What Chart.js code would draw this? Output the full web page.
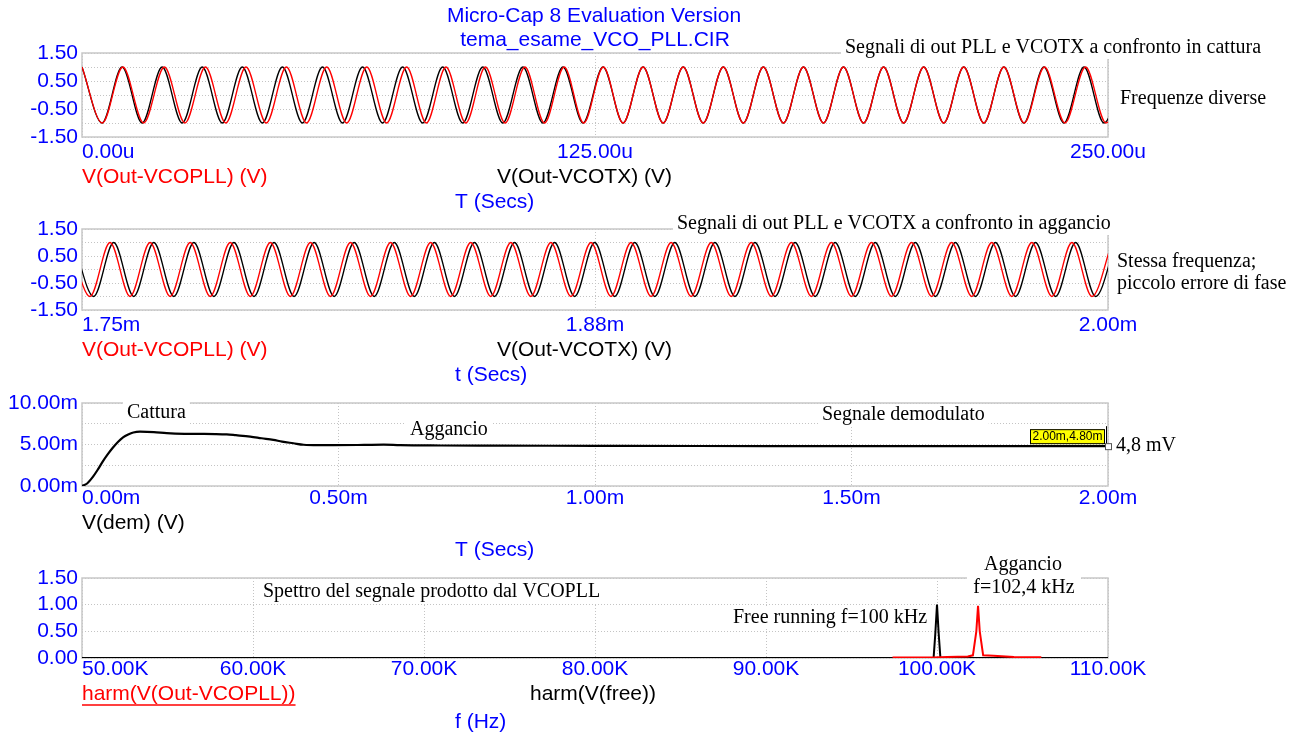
<!DOCTYPE html>
<html>
<head>
<meta charset="utf-8">
<title>tema_esame_VCO_PLL</title>
<script src="https://cdn.jsdelivr.net/npm/chart.js@4.4.1/dist/chart.umd.min.js"></script>
<style>
  html, body { margin: 0; padding: 0; background: #fff; }
  #wrap { position: relative; width: 1301px; height: 736px; overflow: hidden; }
  #wrap canvas { position: absolute; left: 0; top: 0; }
</style>
</head>
<body>
<div id="wrap">
  <canvas id="p1" width="1301" height="736"></canvas>
  <canvas id="p2" width="1301" height="736"></canvas>
  <canvas id="p3" width="1301" height="736"></canvas>
  <canvas id="p4" width="1301" height="736"></canvas>
</div>
<script>
// --- data ---
// panels 1 and 2: times (us) of successive extrema of each sine, first one is a maximum (+1)
const captureTxT = [0, 4.88, 9.77, 14.65, 19.53, 24.41, 29.30, 34.18, 39.06, 43.95, 48.83, 53.71, 58.60,
  63.48, 68.36, 73.24, 78.13, 83.01, 87.89, 92.78, 97.66, 102.54, 107.43, 112.31, 117.19, 122.08, 126.96,
  131.84, 136.72, 141.61, 146.49, 151.37, 156.26, 161.14, 166.02, 170.91, 175.79, 180.67, 185.55, 190.44,
  195.32, 200.20, 205.09, 209.97, 214.85, 219.74, 224.62, 229.50, 234.38, 239.27, 244.15, 249.03, 253.92];
const capturePllT = [0, 4.95, 9.96, 15.02, 20.07, 25.09, 30.08, 35.03, 39.96, 44.90, 49.80, 54.71, 59.62,
  64.50, 69.38, 74.24, 79.10, 83.91, 88.69, 93.51, 98.29, 103.10, 107.92, 112.70, 117.48, 122.25, 127.03,
  131.84, 136.72, 141.61, 146.49, 151.37, 156.26, 161.14, 166.02, 170.91, 175.79, 180.67, 185.55, 190.44,
  195.32, 200.20, 205.09, 209.97, 214.85, 219.74, 224.62, 229.57, 234.53, 239.51, 244.52, 249.52, 254.53];
const lockPllT = [1747.06, 1751.94, 1756.83, 1761.71, 1766.59, 1771.48, 1776.36, 1781.24, 1786.12, 1791.01,
  1795.89, 1800.77, 1805.66, 1810.54, 1815.42, 1820.30, 1825.19, 1830.07, 1834.95, 1839.84, 1844.72, 1849.60,
  1854.49, 1859.37, 1864.25, 1869.14, 1874.02, 1878.90, 1883.78, 1888.67, 1893.55, 1898.43, 1903.32, 1908.20,
  1913.08, 1917.97, 1922.85, 1927.73, 1932.61, 1937.50, 1942.38, 1947.26, 1952.15, 1957.03, 1961.91, 1966.80,
  1971.68, 1976.56, 1981.44, 1986.33, 1991.21, 1996.09, 2000.98];
const lockTxT = [1747.96, 1752.84, 1757.73, 1762.61, 1767.49, 1772.38, 1777.26, 1782.14, 1787.02, 1791.91,
  1796.79, 1801.67, 1806.56, 1811.44, 1816.32, 1821.20, 1826.09, 1830.97, 1835.85, 1840.74, 1845.62, 1850.50,
  1855.39, 1860.27, 1865.15, 1870.04, 1874.92, 1879.80, 1884.68, 1889.57, 1894.45, 1899.33, 1904.22, 1909.10,
  1913.98, 1918.87, 1923.75, 1928.63, 1933.51, 1938.40, 1943.28, 1948.16, 1953.05, 1957.93, 1962.81, 1967.70,
  1972.58, 1977.46, 1982.34, 1987.23, 1992.11, 1996.99, 2001.88];

// panel 3: demodulated signal, t in ms, V in mV
const demT = [0, 0.01, 0.02, 0.03, 0.04, 0.05, 0.06, 0.07, 0.08, 0.09, 0.10, 0.113, 0.14, 0.165, 0.20, 0.23,
  0.26, 0.282, 0.30, 0.328, 0.35, 0.373, 0.39, 0.412, 0.432, 0.46, 0.49, 0.55, 0.588, 0.62, 0.70, 0.80, 1.00,
  1.20, 1.40, 1.60, 1.80, 2.00];
const demV = [0, 0.3, 1.0, 1.9, 2.9, 3.8, 4.6, 5.3, 5.85, 6.2, 6.45, 6.55, 6.5, 6.36, 6.28, 6.27,
  6.26, 6.22, 6.12, 5.95, 5.75, 5.55, 5.35, 5.15, 4.97, 4.92, 4.92, 4.95, 4.98, 4.92, 4.88, 4.86, 4.84,
  4.82, 4.81, 4.80, 4.80, 4.80];

// panel 4: spectra, f in kHz
const freeF = [50, 99.8, 99.9, 100.0, 100.1, 100.2, 110];
const freeA = [0, 0, 0.45, 1.0, 0.45, 0, 0];
const pllF = [97.4, 99.8, 100.6, 101.8, 102.1, 102.3, 102.4, 102.5, 102.7, 103.3, 104.5, 106.1];
const pllA = [0.01, 0.01, 0.02, 0.03, 0.05, 0.5, 0.98, 0.5, 0.05, 0.04, 0.02, 0.015];

// --- drawing ---
const SANS = '"Liberation Sans", Arial, sans-serif';
const SERIF = '"Liberation Serif", "Times New Roman", serif';
const BLUE = '#0000ff';
const RED = '#ff0000';
const GRID = '#c4c4c4';

// extrema alternate max / min
const swing = times => times.map((t, i) => ({ x: t, y: i % 2 ? -1 : 1 }));
const pairs = (xs, ys) => xs.map((x, i) => ({ x: x, y: ys[i] }));

function note(ctx, text, x, y, o = {}) {
  ctx.save();
  ctx.font = (o.size || 20) + 'px ' + (o.family || SERIF);
  ctx.textAlign = o.align || 'left';
  ctx.textBaseline = 'middle';
  const w = ctx.measureText(text).width;
  const left = o.align === 'center' ? x - w / 2 : x;
  if (o.box) {
    ctx.fillStyle = '#fff';
    ctx.fillRect(left - 4, y - 11, w + 8, 22);
  }
  ctx.fillStyle = o.color || '#000';
  ctx.fillText(text, x, y);
  if (o.underline) {
    ctx.strokeStyle = ctx.fillStyle;
    ctx.lineWidth = 1.5;
    ctx.beginPath();
    ctx.moveTo(left, y + 11);
    ctx.lineTo(left + w, y + 11);
    ctx.stroke();
  }
  ctx.restore();
}

const sans = (color, align) => ({ family: SANS, size: 21, color: color, align: align });

function panel(id, cfg) {
  const deco = {
    id: 'deco',
    beforeDatasetsDraw(chart) {
      const a = chart.chartArea, ctx = chart.ctx;
      ctx.save();
      ctx.strokeStyle = '#c8c8c8';
      ctx.lineWidth = 1.5;
      ctx.strokeRect(a.left, a.top, a.right - a.left, a.bottom - a.top);
      ctx.restore();
    },
    afterDraw(chart) {
      const ctx = chart.ctx, xs = chart.scales.x;
      xs.ticks.forEach((t, i) => {
        note(ctx, cfg.xFmt(t.value), xs.getPixelForValue(t.value), cfg.xLabelY,
          sans(BLUE, i === 0 ? 'left' : 'center'));
      });
      cfg.extra(chart, ctx);
    }
  };
  return new Chart(document.getElementById(id), {
    type: 'line',
    data: { datasets: cfg.datasets },
    options: {
      responsive: false,
      animation: false,
      events: [],
      layout: { padding: { left: 0, right: 1301 - 1108, top: cfg.top, bottom: 736 - cfg.bottom } },
      plugins: { legend: { display: false }, tooltip: { enabled: false } },
      elements: { point: { radius: 0 } },
      scales: {
        x: {
          type: 'linear', min: cfg.xMin, max: cfg.xMax,
          ticks: { display: false, stepSize: cfg.xStep },
          grid: { color: GRID, drawTicks: false },
          border: { display: false, dash: [1, 2] },
          afterFit: s => { s.height = 0; }
        },
        y: {
          type: 'linear', min: cfg.yMin, max: cfg.yMax,
          ticks: {
            stepSize: cfg.yStep, color: BLUE, padding: 4, autoSkip: false,
            font: { family: SANS, size: 21 },
            callback: cfg.yFmt
          },
          grid: { color: GRID, drawTicks: false },
          border: { display: false, dash: [1, 2] },
          afterFit: s => { s.width = 82; }
        }
      }
    },
    plugins: [deco]
  });
}

const wave = (data, color) => ({
  data: data, borderColor: color, borderWidth: 1.3,
  cubicInterpolationMode: 'monotone', fill: false
});
const oddHalf = v => (Math.abs(Math.round(v * 2)) % 2 === 1 ? v.toFixed(2) : '');

// 1 - capture
panel('p1', {
  top: 53, bottom: 137, xMin: 0, xMax: 250, xStep: 125, yMin: -1.5, yMax: 1.5, yStep: 0.5,
  xLabelY: 152, xFmt: v => v.toFixed(2) + 'u', yFmt: oddHalf,
  datasets: [wave(swing(capturePllT), RED), wave(swing(captureTxT), '#000')],
  extra(chart, ctx) {
    note(ctx, 'Micro-Cap 8 Evaluation Version', 594, 16, sans(BLUE, 'center'));
    note(ctx, 'tema_esame_VCO_PLL.CIR', 595, 40, sans(BLUE, 'center'));
    note(ctx, 'V(Out-VCOPLL) (V)', 82, 177, sans(RED));
    note(ctx, 'V(Out-VCOTX) (V)', 497, 177, sans('#000'));
    note(ctx, 'T (Secs)', 455, 202, sans(BLUE));
    note(ctx, 'Segnali di out PLL e VCOTX a confronto in cattura', 845, 48, { box: true });
    note(ctx, 'Frequenze diverse', 1120, 99);
  }
});

// 2 - lock
panel('p2', {
  top: 229, bottom: 310, xMin: 1750, xMax: 2000, xStep: 125, yMin: -1.5, yMax: 1.5, yStep: 0.5,
  xLabelY: 325, xFmt: v => (v / 1000).toFixed(2) + 'm', yFmt: oddHalf,
  datasets: [wave(swing(lockPllT), RED), wave(swing(lockTxT), '#000')],
  extra(chart, ctx) {
    note(ctx, 'V(Out-VCOPLL) (V)', 82, 350, sans(RED));
    note(ctx, 'V(Out-VCOTX) (V)', 497, 350, sans('#000'));
    note(ctx, 't (Secs)', 455, 375, sans(BLUE));
    note(ctx, 'Segnali di out PLL e VCOTX a confronto in aggancio', 677, 224, { box: true });
    note(ctx, 'Stessa frequenza;', 1117, 262);
    note(ctx, 'piccolo errore di fase', 1117, 284);
  }
});

// 3 - demodulated signal
panel('p3', {
  top: 403, bottom: 486, xMin: 0, xMax: 2, xStep: 0.5, yMin: 0, yMax: 10, yStep: 2.5,
  xLabelY: 498, xFmt: v => v.toFixed(2) + 'm',
  yFmt: v => (v % 5 === 0 ? v.toFixed(2) + 'm' : ''),
  datasets: [{
    data: pairs(demT, demV), borderColor: '#000', borderWidth: 2.2,
    cubicInterpolationMode: 'monotone', fill: false
  }],
  extra(chart, ctx) {
    note(ctx, 'V(dem) (V)', 82, 523, sans('#000'));
    note(ctx, 'T (Secs)', 455, 550, sans(BLUE));
    note(ctx, 'Cattura', 127, 413, { box: true });
    note(ctx, 'Aggancio', 410, 430, { box: true });
    note(ctx, 'Segnale demodulato', 822, 415, { box: true });
    // cursor tag on the last point
    const px = chart.scales.x.getPixelForValue(demT[demT.length - 1]);
    const py = chart.scales.y.getPixelForValue(demV[demV.length - 1]);
    ctx.save();
    ctx.fillStyle = '#ffff00';
    ctx.fillRect(px - 78, py - 17, 75, 15);
    ctx.strokeStyle = '#000';
    ctx.lineWidth = 1;
    ctx.strokeRect(px - 77.5, py - 16.5, 74, 14);
    ctx.beginPath();
    ctx.moveTo(px - 1.5, py - 20);
    ctx.lineTo(px - 1.5, py);
    ctx.stroke();
    ctx.fillStyle = '#fff';
    ctx.strokeStyle = '#555';
    ctx.fillRect(px - 2.5, py - 2.5, 6, 6);
    ctx.strokeRect(px - 2.5, py - 2.5, 6, 6);
    ctx.restore();
    note(ctx, '2.00m,4.80m', px - 40.5, py - 9.5, { family: SANS, size: 12, align: 'center' });
    note(ctx, '4,8 mV', 1116, py);
  }
});

// 4 - spectra
panel('p4', {
  top: 578, bottom: 658, xMin: 50, xMax: 110, xStep: 10, yMin: 0, yMax: 1.5, yStep: 0.5,
  xLabelY: 669, xFmt: v => v.toFixed(2) + 'K', yFmt: v => v.toFixed(2),
  datasets: [
    { data: pairs(pllF, pllA), borderColor: RED, borderWidth: 2, tension: 0, fill: false },
    { data: pairs(freeF, freeA), borderColor: '#000', borderWidth: 2, tension: 0, fill: false }
  ],
  extra(chart, ctx) {
    note(ctx, 'harm(V(Out-VCOPLL))', 82, 694, Object.assign(sans(RED), { underline: true }));
    note(ctx, 'harm(V(free))', 530, 694, sans('#000'));
    note(ctx, 'f (Hz)', 455, 722, sans(BLUE));
    note(ctx, 'Spettro del segnale prodotto dal VCOPLL', 263, 592, { box: true });
    note(ctx, 'Free running f=100 kHz', 733, 618, { box: true });
    ctx.save();
    ctx.fillStyle = '#fff';
    ctx.fillRect(967, 553, 114, 47);
    ctx.restore();
    note(ctx, 'Aggancio', 1023, 565, { align: 'center' });
    note(ctx, 'f=102,4 kHz', 1024, 588, { align: 'center' });
  }
});
</script>
</body>
</html>
